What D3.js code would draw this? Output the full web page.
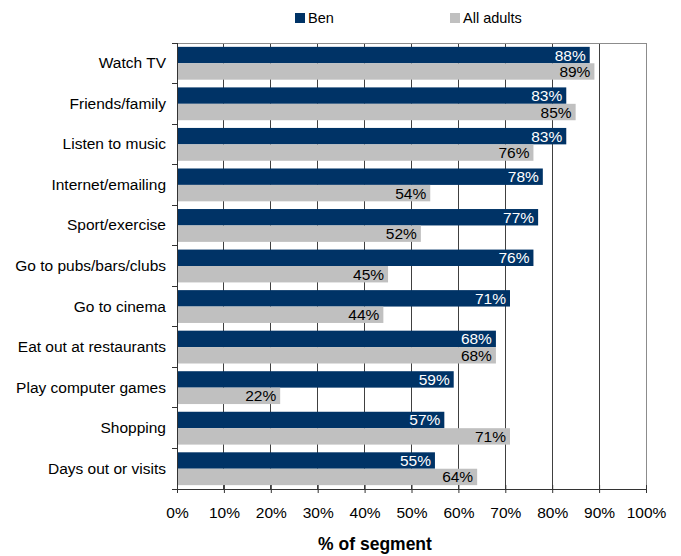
<!DOCTYPE html>
<html>
<head>
<meta charset="utf-8">
<script src="https://cdn.jsdelivr.net/npm/d3@7"></script>
<style>
  html, body { margin: 0; padding: 0; background: #fff; }
  svg { display: block; font-family: "Liberation Sans", Arial, sans-serif; }
</style>
</head>
<body>
<svg id="chart" width="681" height="556"></svg>
<script>
// Leisure activities: share of segment
const categories = [
  "Watch TV", "Friends/family", "Listen to music", "Internet/emailing",
  "Sport/exercise", "Go to pubs/bars/clubs", "Go to cinema",
  "Eat out at restaurants", "Play computer games", "Shopping", "Days out or visits"
];
const benValues = [88, 83, 83, 78, 77, 76, 71, 68, 59, 57, 55];
const allAdultsValues = [89, 85, 76, 54, 52, 45, 44, 68, 22, 71, 64];
const seriesNames = ["Ben", "All adults"];
const tickValues = [0, 10, 20, 30, 40, 50, 60, 70, 80, 90, 100];
const xTitle = "% of segment";

const colors = { "Ben": "#003366", "All adults": "#c0c0c0" };
const labelColors = { "Ben": "#ffffff", "All adults": "#000000" };

const svg = d3.select("#chart");
const plot = { left: 177, right: 646, top: 43, bottom: 489 };

const x = d3.scaleLinear().domain([0, 100]).range([plot.left, plot.right]);
const y = d3.scaleBand().domain(categories).range([plot.top, plot.bottom])
  .paddingInner(0.19).paddingOuter(0.095);
const sub = d3.scaleBand().domain(seriesNames).range([0, y.bandwidth()]);

// Vertical gridlines
svg.append("g").selectAll("line")
  .data(tickValues.filter(t => t > 0 && t < 100))
  .join("line")
  .attr("x1", d => x(d)).attr("x2", d => x(d))
  .attr("y1", plot.top).attr("y2", plot.bottom)
  .attr("stroke", "#404040").attr("stroke-width", 1)
  .attr("shape-rendering", "crispEdges");

// Plot frame (top and right)
svg.append("path")
  .attr("d", `M${plot.left},${plot.top}H${plot.right}V${plot.bottom}`)
  .attr("fill", "none").attr("stroke", "#8c8c8c").attr("stroke-width", 1)
  .attr("shape-rendering", "crispEdges");

// Bars
const rows = categories.map((c, i) => ({
  cat: c,
  vals: [
    { series: "Ben", value: benValues[i] },
    { series: "All adults", value: allAdultsValues[i] }
  ]
}));

const groups = svg.append("g").selectAll("g")
  .data(rows).join("g")
  .attr("transform", d => `translate(0,${y(d.cat)})`);

groups.selectAll("rect")
  .data(d => d.vals).join("rect")
  .attr("x", x(0))
  .attr("y", d => sub(d.series))
  .attr("width", d => x(d.value) - x(0))
  .attr("height", sub.bandwidth())
  .attr("fill", d => colors[d.series]);

groups.selectAll("text")
  .data(d => d.vals).join("text")
  .attr("x", d => x(d.value) - 4)
  .attr("y", d => sub(d.series) + sub.bandwidth() / 2 + 5.5)
  .attr("text-anchor", "end")
  .attr("font-size", 15.5)
  .attr("fill", d => labelColors[d.series])
  .text(d => d.value + "%");

// Left axis
const yAxis = svg.append("g");
yAxis.append("line")
  .attr("x1", plot.left).attr("x2", plot.left)
  .attr("y1", plot.top).attr("y2", plot.bottom)
  .attr("stroke", "#333").attr("shape-rendering", "crispEdges");
const boundaries = d3.range(categories.length + 1).map(i => plot.top + i * y.step());
yAxis.selectAll(".tick").data(boundaries).join("line")
  .attr("x1", plot.left - 5).attr("x2", plot.left)
  .attr("y1", d => d).attr("y2", d => d)
  .attr("stroke", "#333").attr("shape-rendering", "crispEdges");
yAxis.selectAll("text").data(categories).join("text")
  .attr("x", 166)
  .attr("y", d => y(d) + y.bandwidth() / 2 + 5)
  .attr("text-anchor", "end")
  .attr("font-size", 15.5)
  .attr("fill", "#000")
  .text(d => d);

// Bottom axis
const xAxis = svg.append("g")
  .attr("transform", `translate(0,${plot.bottom})`)
  .call(d3.axisBottom(x).tickValues(tickValues).tickFormat(d => d + "%")
    .tickSizeInner(4).tickSizeOuter(0).tickPadding(14));
xAxis.select(".domain").attr("stroke", "#333");
xAxis.selectAll(".tick line").attr("stroke", "#333").attr("y1", -4).attr("y2", 4);
xAxis.selectAll(".tick text").attr("font-size", 15.5).attr("fill", "#000")
  .attr("font-family", "Liberation Sans, Arial, sans-serif");

svg.append("text")
  .attr("x", 375)
  .attr("y", 550)
  .attr("text-anchor", "middle")
  .attr("font-size", 17.5)
  .attr("font-weight", "bold")
  .text(xTitle);

// Legend
const legendPos = [{ name: "Ben", x: 295 }, { name: "All adults", x: 450 }];
const legend = svg.append("g").selectAll("g").data(legendPos).join("g")
  .attr("transform", d => `translate(${d.x},13)`);
legend.append("rect").attr("width", 10).attr("height", 10)
  .attr("fill", d => colors[d.name]);
legend.append("text").attr("x", 13).attr("y", 9.5)
  .attr("font-size", 14.5).text(d => d.name);
</script>
</body>
</html>
